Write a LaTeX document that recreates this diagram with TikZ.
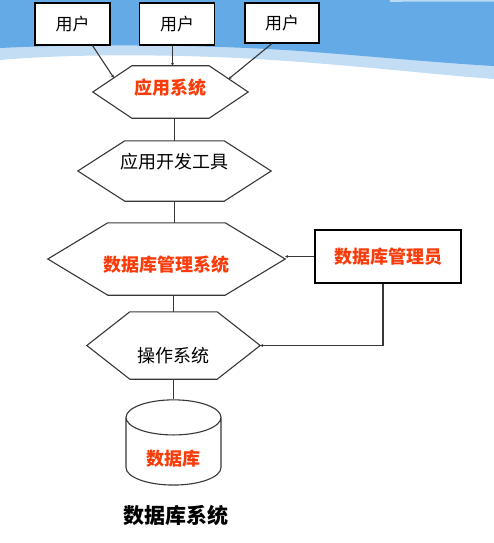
\documentclass[tikz,border=0pt]{standalone}
\usepackage{fontspec}
\setmainfont{Noto Sans CJK SC}
\usetikzlibrary{shapes.geometric,arrows.meta,calc}
\definecolor{wave}{RGB}{100,170,230}
\definecolor{wavelight}{RGB}{195,221,245}
\definecolor{hot}{RGB}{250,60,10}
\definecolor{ink}{RGB}{55,55,55}
\newcommand\hexoutline[2]{\draw[link] (#1.west) -- ([xshift=#2]#1.north west) -- ([xshift=-#2]#1.north east)
  -- (#1.east) -- ([xshift=-#2]#1.south east) -- ([xshift=#2]#1.south west) -- cycle;}
\begin{document}
\begin{tikzpicture}[x=1pt,y=-1pt,
  user/.style={draw,line width=1.1pt,fill=white,minimum width=75pt,minimum height=42pt,inner sep=0pt,font=\fontsize{17}{19}\selectfont},
  hexa/.style={rectangle,inner sep=0pt,font=\fontsize{18}{20}\selectfont},
  key/.style={text=hot,font=\fontsize{18}{20}\selectfont\bfseries},
  link/.style={draw=ink,line width=1.1pt},
  tip/.style={link,-{Stealth[length=3pt,width=3pt]}}]
\useasboundingbox (0,0) rectangle (494,543);
\fill[wavelight] (0,0) -- (494,0) -- (494,79) .. controls (440,75) and (380,68) .. (300,62)
  .. controls (200,54) and (80,53) .. (0,60) -- cycle;
\fill[wave] (0,0) -- (494,0) -- (494,66) .. controls (440,63) and (380,57) .. (300,51)
  .. controls (200,44) and (80,44) .. (0,48) -- cycle;
\draw[white!55!wave,line width=2pt] (390,1) .. controls (430,0) and (470,1) .. (494,0.5);
\node[user] (u1) at (72.5,24) {用户};
\node[user] (u2) at (177,24) {用户};
\node[user,minimum width=74pt,minimum height=40pt] (u3) at (282,23) {用户};
\node[hexa,key,minimum width=155pt,minimum height=52pt,text height=12pt,text depth=6.4pt] (app) at (170.5,92) {应用系统};
\node[hexa,minimum width=193pt,minimum height=60pt,text height=10pt,text depth=14.4pt] (dev) at (174.5,171) {应用开发工具};
\node[hexa,key,minimum width=237pt,minimum height=72pt,text height=28pt,text depth=2.4pt] (dbms) at (166.5,259) {数据库管理系统};
\node[hexa,minimum width=173pt,minimum height=67pt,text height=36pt,text depth=2.4pt] (os) at (173.5,345.5) {操作系统};
\hexoutline{app}{39pt}
\hexoutline{dev}{47pt}
\hexoutline{dbms}{60pt}
\hexoutline{os}{43pt}
\node[user,key,minimum width=146pt,minimum height=53pt] (dba) at (388,256.5) {数据库管理员};
\node[cylinder,shape border rotate=90,draw=ink,line width=1.1pt,fill=white,aspect=0.65,minimum width=95pt,minimum height=73pt,inner sep=0pt,key,text height=30pt,text depth=2pt] (db) at (173.5,451.5) {数据库};
\node[font=\fontsize{21}{23}\selectfont\bfseries] (title) at (176,515) {数据库系统};
\draw[tip] ([xshift=20pt]u1.south) -- ($(app.west)!0.54!([xshift=39pt]app.north west)$);
\draw[tip] ([xshift=-4.5pt]u2.south) -- ([xshift=-4.5pt]u2.south |- app.north);
\draw[tip] ([xshift=-10pt]u3.south) -- ($(app.east)!0.5!([xshift=-39pt]app.north east)$);
\draw[link] (app.south -| dev.north) -- (dev.north);
\draw[link] (dev.south) -- (dev.south |- dbms.north);
\draw[link] (dbms.south -| os.north) -- (os.north);
\draw[link] (os.south) -- (db.top);
\draw[tip] (dba.west) -- (dba.west -| dbms.east);
\draw[tip] ([xshift=-5pt]dba.south) |- (os.east);
\end{tikzpicture}
\end{document}
